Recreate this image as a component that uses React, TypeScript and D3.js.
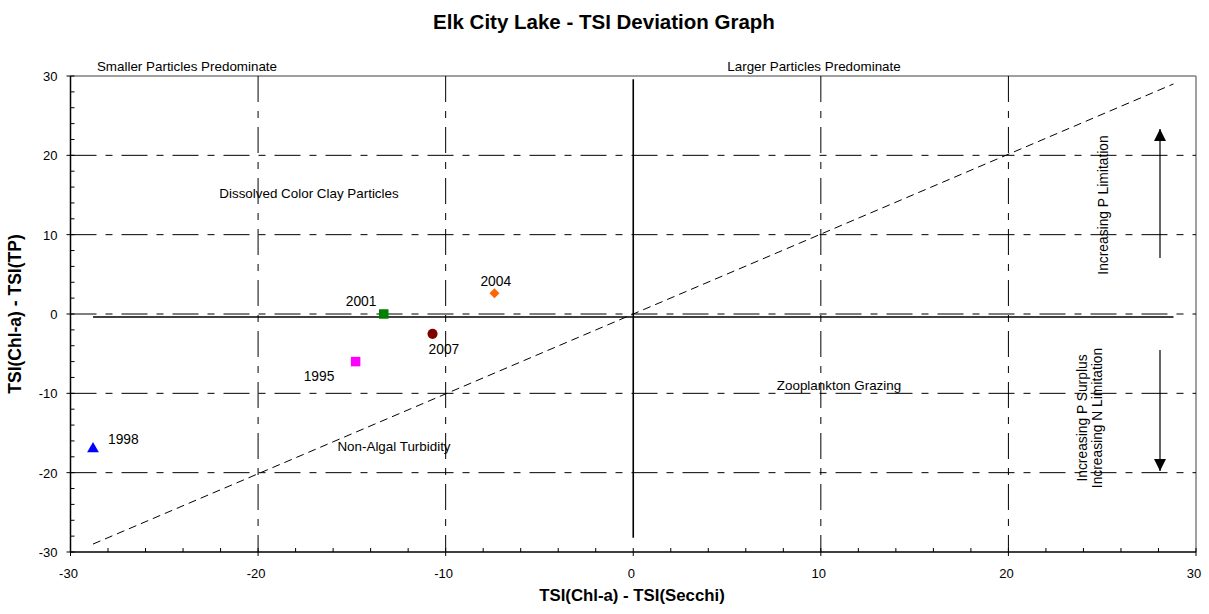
import * as d3 from 'd3'

// Year points: TSI(Chl-a)-TSI(Secchi) vs TSI(Chl-a)-TSI(TP)
const years = ['1998', '1995', '2001', '2007', '2004']
const xVals = [-28.8, -14.8, -13.3, -10.7, -7.4]
const yVals = [-17, -6, 0, -2.5, 2.6]
const shapes = ['triangle', 'square', 'square', 'circle', 'diamond']
const colors = ['#0000ff', '#ff00ff', '#008000', '#800000', '#ff6600']
// label offsets (px) from each marker
const labelDx = [15, -52, -38, -4, -14]
const labelDy = [-5, 19, -8, 20, -7]

const tickVals = [-30, -20, -10, 0, 10, 20, 30]
const gridVals = [-20, -10, 10, 20]
const hGridVals = [-20, -10, 0, 10, 20]
const minorVals = d3.range(-30, 31, 2)

const W = 1209
const H = 614

export default function App() {
  const x = d3.scaleLinear().domain([-30, 30]).range([70.5, 1196])
  const y = d3.scaleLinear().domain([-30, 30]).range([552, 76])
  const font = 'Arial, "Liberation Sans", sans-serif'
  const gridDash = '26,9,7,9'

  const symbol = (s: string) => {
    if (s === 'triangle') return d3.symbol(d3.symbolTriangle, 60)()
    if (s === 'square') return d3.symbol(d3.symbolSquare, 90)()
    if (s === 'circle') return d3.symbol(d3.symbolCircle, 80)()
    return d3.symbol(d3.symbolSquare, 50)()
  }

  return (
    <svg width={W} height={H} style={{ position: 'absolute', left: 0, top: 0, background: '#fff' }} fontFamily={font}>
      <defs>
        <marker id="ah" viewBox="0 0 12 12" refX="12" refY="6" markerWidth="12" markerHeight="12" markerUnits="userSpaceOnUse" orient="auto">
          <path d="M0,0 L12,6 L0,12 z" fill="#000" />
        </marker>
      </defs>
      <text x={604} y={29} textAnchor="middle" fontSize={20.5} fontWeight="bold">Elk City Lake - TSI Deviation Graph</text>

      {/* frame */}
      <line x1={x(-30)} x2={x(30)} y1={y(30)} y2={y(30)} stroke="#808080" strokeWidth={1.5} />
      <line x1={x(30)} x2={x(30)} y1={y(30)} y2={y(-30)} stroke="#808080" strokeWidth={1.5} />

      {/* grid */}
      {gridVals.map((v) => (
        <line key={'v' + v} x1={x(v)} x2={x(v)} y1={y(30)} y2={y(-30)} stroke="#000" strokeWidth={1} strokeDasharray={gridDash} />
      ))}
      {hGridVals.map((v) => (
        <line key={'h' + v} x1={x(-30)} x2={x(30)} y1={y(v)} y2={y(v)} stroke="#000" strokeWidth={1} strokeDasharray={gridDash} />
      ))}

      {/* quadrant lines */}
      <line x1={x(-28.8)} x2={x(28.8)} y1={y(-0.38)} y2={y(-0.38)} stroke="#000" strokeWidth={1.6} />
      <line x1={x(0)} x2={x(0)} y1={y(29.6)} y2={y(-28.2)} stroke="#000" strokeWidth={1.6} />

      {/* 1:1 line */}
      <line x1={x(-28.8)} x2={x(28.8)} y1={y(-29)} y2={y(29)} stroke="#000" strokeWidth={1} strokeDasharray="8,5" />

      {/* axes */}
      <line x1={x(-30)} x2={x(-30)} y1={y(30)} y2={y(-30)} stroke="#000" strokeWidth={1.5} />
      <line x1={x(-30)} x2={x(30)} y1={y(-30)} y2={y(-30)} stroke="#000" strokeWidth={1.5} />
      {minorVals.map((v) => (
        <g key={'t' + v}>
          <line x1={x(v)} x2={x(v)} y1={y(-30) + (v % 10 === 0 ? 4 : 0)} y2={y(-30) - 4} stroke="#000" />
          <line x1={x(-30) - (v % 10 === 0 ? 4 : 0)} x2={x(-30) + 4} y1={y(v)} y2={y(v)} stroke="#000" />
        </g>
      ))}
      {tickVals.map((v) => (
        <g key={'l' + v} fontSize={13}>
          <text x={x(v) - 2} y={y(-30) + 26} textAnchor="middle">{v}</text>
          <text x={x(-30) - 13} y={y(v) + 5} textAnchor="end">{v}</text>
        </g>
      ))}
      <text x={632} y={601} textAnchor="middle" fontSize={16.8} fontWeight="bold">TSI(Chl-a) - TSI(Secchi)</text>
      <text transform={`translate(21,${y(0)}) rotate(-90)`} textAnchor="middle" fontSize={17.5} fontWeight="bold">TSI(Chl-a) - TSI(TP)</text>

      {/* annotations */}
      <g fontSize={13.4}>
        <text x={187} y={71} textAnchor="middle">Smaller Particles Predominate</text>
        <text x={814} y={71} textAnchor="middle">Larger Particles Predominate</text>
        <text x={309} y={198} textAnchor="middle">Dissolved Color Clay Particles</text>
        <text x={394} y={451} textAnchor="middle">Non-Algal Turbidity</text>
        <text x={839} y={390} textAnchor="middle">Zooplankton Grazing</text>
      </g>
      <g fontSize={13.8}>
        <text transform="translate(1108,205) rotate(-90)" textAnchor="middle">Increasing P Limitation</text>
        <text transform="translate(1087,418) rotate(-90)" textAnchor="middle">Increasing P Surplus</text>
        <text transform="translate(1102,418) rotate(-90)" textAnchor="middle">Increasing N Limitation</text>
      </g>
      <line x1={1160} x2={1160} y1={258} y2={129} stroke="#000" strokeWidth={1.2} markerEnd="url(#ah)" />
      <line x1={1160} x2={1160} y1={350} y2={471} stroke="#000" strokeWidth={1.2} markerEnd="url(#ah)" />

      {/* points */}
      {years.map((yr, i) => (
        <g key={yr}>
          <path
            d={symbol(shapes[i]) ?? ''}
            transform={`translate(${x(xVals[i])},${y(yVals[i])})${shapes[i] === 'diamond' ? ' rotate(45)' : ''}`}
            fill={colors[i]}
          />
          <text x={x(xVals[i]) + labelDx[i]} y={y(yVals[i]) + labelDy[i]} fontSize={13.8}>{yr}</text>
        </g>
      ))}
    </svg>
  )
}
